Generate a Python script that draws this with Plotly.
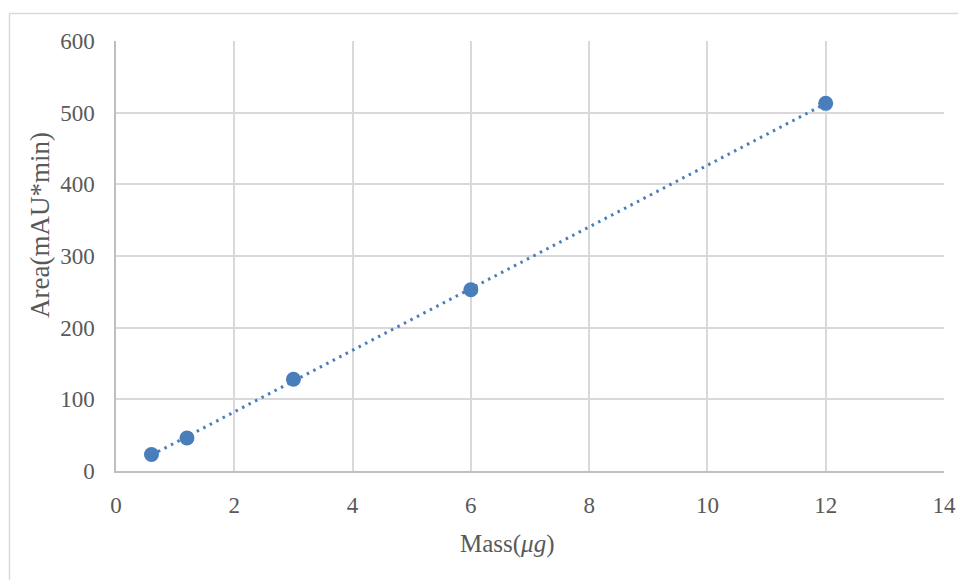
import numpy as np
import plotly.graph_objects as go

# Calibration data: injected mass (µg) vs. peak area (mAU*min)
mass_ug = [0.6, 1.2, 3, 6, 12]
area_mau_min = [23, 46, 128, 253, 513]

x_ticks = [0, 2, 4, 6, 8, 10, 12, 14]
y_ticks = [0, 100, 200, 300, 400, 500, 600]

x_title = "Mass(<i>μg</i>)"
y_title = "Area(mAU*min)"

blue = "#4a7ebb"
text_gray = "#595959"
grid_gray = "#d9d9d9"
axis_gray = "#bfbfbf"
font_family = "Liberation Serif, Times New Roman, serif"

# Linear trendline across the measured range
slope, intercept = np.polyfit(mass_ug, area_mau_min, 1)
fit_x = np.array([min(mass_ug), max(mass_ug)])
fit_y = slope * fit_x + intercept

fig = go.Figure()
fig.add_trace(go.Scatter(
    x=fit_x, y=fit_y, mode="lines",
    line=dict(color=blue, width=3, dash="2.5px,4.8px"),
    hoverinfo="skip", showlegend=False,
))
fig.add_trace(go.Scatter(
    x=mass_ug, y=area_mau_min, mode="markers",
    marker=dict(color=blue, size=15, line=dict(width=0)),
    showlegend=False,
))

W, H = 958, 580
ml, mr, mt, mb = 116, 14, 41, 109
pw, ph = W - ml - mr, H - mt - mb


def px_x(p):
    return (p - ml) / pw


def px_y(p):
    return 1 - (p - mt) / ph


# Chart frame around the whole chart area
fig.add_shape(
    type="rect", xref="paper", yref="paper",
    x0=px_x(9.5), x1=px_x(W + 20),
    y0=px_y(H + 20), y1=px_y(13.5),
    line=dict(color=grid_gray, width=1.5), fillcolor="rgba(0,0,0,0)",
    layer="below",
)

# Axis titles
fig.add_annotation(
    text=x_title, xref="paper", yref="paper",
    x=px_x(507), y=px_y(544), xanchor="center", yanchor="middle",
    showarrow=False, font=dict(family=font_family, size=25, color=text_gray),
)
fig.add_annotation(
    text=y_title, xref="paper", yref="paper",
    x=px_x(40), y=px_y(225), xanchor="center", yanchor="middle",
    textangle=-90, showarrow=False,
    font=dict(family=font_family, size=27, color=text_gray),
)

fig.update_layout(
    width=W, height=H,
    margin=dict(l=ml, r=mr, t=mt, b=mb),
    paper_bgcolor="white", plot_bgcolor="white",
    font=dict(family=font_family, size=23, color=text_gray),
    xaxis=dict(
        range=[0, 14], tickvals=x_ticks, ticktext=[str(v) for v in x_ticks],
        showgrid=True, gridcolor=grid_gray, gridwidth=1.5,
        showline=True, linecolor=axis_gray, linewidth=1.5,
        zeroline=False, ticks="", ticklabelstandoff=13, automargin=False,
    ),
    yaxis=dict(
        range=[0, 600], tickvals=y_ticks, ticktext=[str(v) for v in y_ticks],
        showgrid=True, gridcolor=grid_gray, gridwidth=1.5,
        showline=True, linecolor=axis_gray, linewidth=1.5,
        zeroline=False, ticks="", ticklabelstandoff=15, automargin=False,
    ),
)

fig.write_html("out.html")
